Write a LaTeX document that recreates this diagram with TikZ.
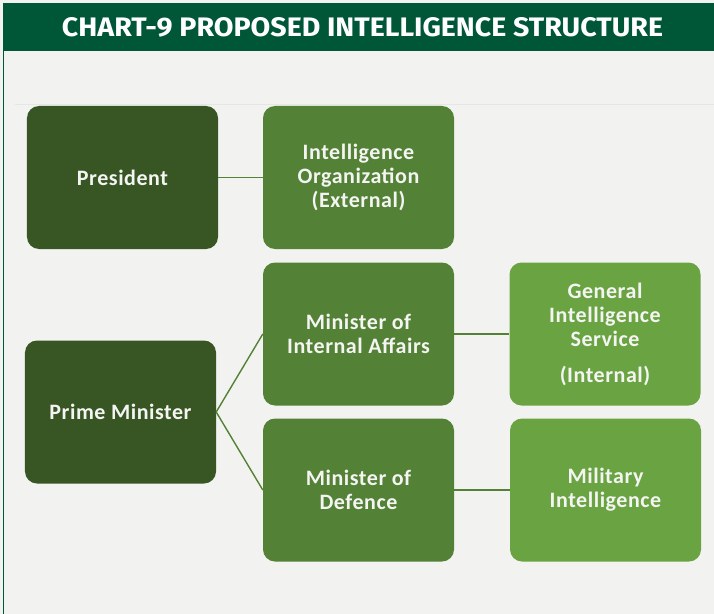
\documentclass[tikz,border=0pt]{standalone}
\usepackage{fontspec}
\setmainfont{Carlito}[LetterSpace=2.5]
\newfontfamily\headfont{Fira Sans}
\definecolor{bgc}{RGB}{242,242,240}
\definecolor{headc}{RGB}{0,87,55}
\definecolor{darkg}{RGB}{55,86,35}
\definecolor{midg}{RGB}{83,129,53}
\definecolor{lightg}{RGB}{106,164,66}
\definecolor{txtc}{RGB}{244,244,242}
\definecolor{faint}{RGB}{230,230,228}
\tikzset{
  orgbox/.style={rectangle, rounded corners=12bp, minimum width=191bp, minimum height=143bp,
    inner sep=0pt, align=center, text=txtc,
    font=\fontsize{22bp}{24bp}\selectfont\bfseries},
  lvla/.style={orgbox, fill=darkg},
  lvlb/.style={orgbox, fill=midg},
  lvlc/.style={orgbox, fill=lightg},
  link/.style={draw=midg, line width=1.4bp}
}
\begin{document}
\begin{tikzpicture}[x=1bp,y=-1bp]
\useasboundingbox (0,0) rectangle (714,614);
\fill[bgc] (0,0) rectangle (714,614);
\fill[headc] (3,3) rectangle (714,51);
\draw[headc, line width=1bp] (3.5,3) -- (3.5,614);
\draw[faint, line width=1bp] (15,105) -- (714,105);
\node[text=white, inner sep=0pt] (title) at (362.5,27) {\resizebox{601bp}{19bp}{\headfont\bfseries CHART-9 PROPOSED INTELLIGENCE STRUCTURE}};

\node[lvla] (pres) at (122.5,177.5) {President};
\node[lvlb] (io) at (358.5,177.5) {Intelligence\\Organization\\(External)};
\node[lvla] (pm) at (120.5,412) {Prime Minister};
\node[lvlb] (mia) at (358.5,334) {Minister of\\Internal Affairs};
\node[lvlb] (md) at (358.5,490) {Minister of\\Defence};
\node[lvlc] (gis) at (605,334) {General\\Intelligence\\Service\\[12bp](Internal)};
\node[lvlc] (mi) at (605.5,490) {Military\\Intelligence};

\draw[link] (pres.east) -- (io.west);
\draw[link] (pm.east) -- (mia.west);
\draw[link] (pm.east) -- (md.west);
\draw[link] (mia.east) -- (gis.west);
\draw[link] (md.east) -- (mi.west);
\end{tikzpicture}
\end{document}
